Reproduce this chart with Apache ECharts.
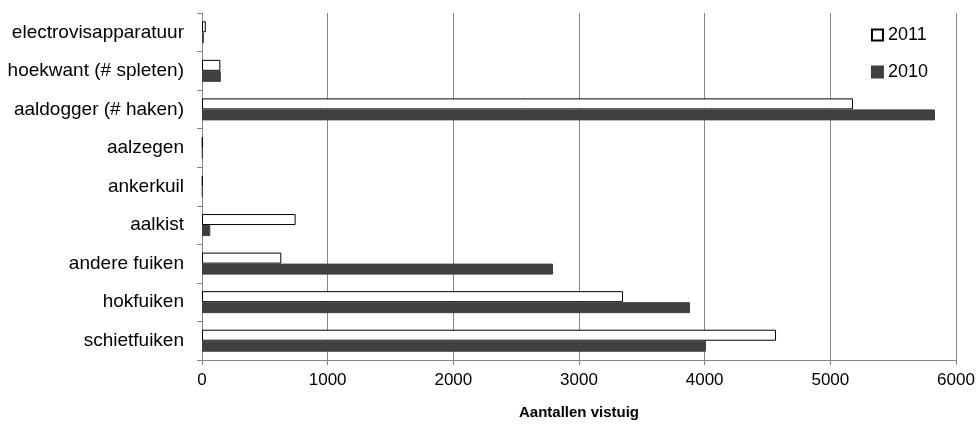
<!DOCTYPE html>
<html><head><meta charset="utf-8">
<script src="https://cdn.jsdelivr.net/npm/echarts@6/dist/echarts.min.js"></script>
<style>html,body{margin:0;padding:0;background:#fff}#c{width:979px;height:427px}</style>
</head><body><div id="c"></div>
<script>
const categories = ['schietfuiken','hokfuiken','andere fuiken','aalkist','ankerkuil','aalzegen','aaldogger (# haken)','hoekwant (# spleten)','electrovisapparatuur'];
const values2011 = [4568, 3350, 631, 745, 5, 5, 5180, 146, 30];
const values2010 = [4010, 3883, 2793, 66, 5, 5, 5833, 150, 15];
const xTicks = [0, 1000, 2000, 3000, 4000, 5000, 6000];
const font = 'Liberation Sans';
const chart = echarts.init(document.getElementById('c'));
chart.setOption({
  animation: false,
  textStyle: {fontFamily: font},
  grid: {left: 202, right: 23, top: 13, bottom: 67},
  legend: {
    orient: 'vertical', right: 46, top: 21, itemGap: 19, icon: 'rect',
    itemWidth: 11, itemHeight: 11,
    textStyle: {fontSize: 18, color: '#000', fontFamily: font},
    data: ['2011', '2010']
  },
  xAxis: {
    type: 'value', min: xTicks[0], max: xTicks[xTicks.length - 1], interval: 1000,
    name: 'Aantallen vistuig', nameLocation: 'middle', nameGap: 45,
    nameTextStyle: {fontSize: 15, fontWeight: 'bold', color: '#000', fontFamily: font},
    axisLine: {show: true, lineStyle: {color: '#868686'}},
    axisTick: {show: true, length: 5, lineStyle: {color: '#868686'}},
    axisLabel: {fontSize: 17, color: '#000', margin: 12, fontFamily: font,
      formatter: v => String(v)},
    splitLine: {show: true, lineStyle: {color: '#868686'}}
  },
  yAxis: {
    type: 'category', data: categories,
    axisLine: {show: true, lineStyle: {color: '#868686'}},
    axisTick: {show: true, length: 5, lineStyle: {color: '#868686'}},
    axisLabel: {fontSize: 19, color: '#000', margin: 18, fontFamily: font}
  },
  series: [
    {name: '2011', type: 'bar', data: values2011, barWidth: 11, barGap: '0%',
     itemStyle: {color: '#ffffff', borderColor: '#000', borderWidth: 1}},
    {name: '2010', type: 'bar', data: values2010, barWidth: 11, barGap: '0%',
     itemStyle: {color: '#404040', borderColor: '#404040', borderWidth: 1}}
  ]
});
</script></body></html>
